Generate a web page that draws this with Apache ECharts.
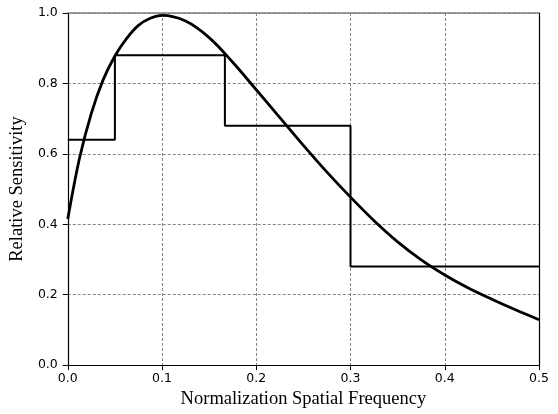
<!DOCTYPE html>
<html>
<head>
<meta charset="utf-8">
<script src="https://cdn.jsdelivr.net/npm/echarts@6/dist/echarts.min.js"></script>
<style>
  html, body { margin: 0; padding: 0; background: #fff; }
  #chart { width: 558px; height: 414px; }
</style>
</head>
<body>
<div id="chart"></div>
<script>
// Sensitivity curve samples (normalised spatial frequency -> relative sensitivity)
const curveX = [0.0000, 0.0125, 0.0250, 0.0375, 0.0500, 0.0625, 0.0750, 0.0875, 0.1000,
                0.125, 0.150, 0.175, 0.200, 0.225, 0.250, 0.275, 0.300, 0.325, 0.350,
                0.375, 0.400, 0.425, 0.450, 0.475, 0.500];
const curveY = [0.415, 0.588, 0.715, 0.810, 0.878, 0.928, 0.965, 0.985, 0.993,
                0.977, 0.930, 0.860, 0.782, 0.703, 0.624, 0.548, 0.477, 0.410, 0.350,
                0.299, 0.256, 0.219, 0.187, 0.157, 0.129];

// Piecewise-constant band weights: band edges and the level held in each band
const bandEdges = [0, 0.05, 0.1667, 0.3, 0.5];
const bandLevels = [0.64, 0.88, 0.68, 0.28];

// Axis ticks
const xTicks = [0.0, 0.1, 0.2, 0.3, 0.4, 0.5];
const yTicks = [0.0, 0.2, 0.4, 0.6, 0.8, 1.0];

const curveData = curveX.map((x, i) => [x, curveY[i]]);
const stepData = bandEdges.map((x, i) => [x, bandLevels[Math.min(i, bandLevels.length - 1)]]);

const tickFont = { fontFamily: 'DejaVu Sans', fontSize: 12.5, color: '#000' };
const titleFont = { fontFamily: 'Liberation Serif', fontSize: 18.5, color: '#000' };
const gridDash = { color: '#666', width: 0.8, type: [3, 2] };

const chart = echarts.init(document.getElementById('chart'), null, { renderer: 'canvas' });
chart.setOption({
  animation: false,
  backgroundColor: '#fff',
  grid: { left: 67, right: 19, top: 13, bottom: 47, containLabel: false },
  xAxis: [
    {
      type: 'value',
      min: xTicks[0], max: xTicks[xTicks.length - 1], interval: 0.1,
      name: 'Normalization Spatial Frequency',
      nameLocation: 'middle', nameGap: 24,
      nameTextStyle: titleFont,
      axisLine: { show: true, onZero: false, lineStyle: { color: '#000', width: 1.2 } },
      axisTick: { show: true, length: 5, lineStyle: { color: '#000', width: 1 } },
      axisLabel: { ...tickFont, margin: 7, formatter: v => v.toFixed(1) },
      splitLine: { show: true, lineStyle: gridDash }
    },
    {
      type: 'value', position: 'top',
      min: xTicks[0], max: xTicks[xTicks.length - 1],
      axisLine: { show: true, onZero: false, lineStyle: { color: '#808080', width: 1.6 } },
      axisTick: { show: false }, axisLabel: { show: false }, splitLine: { show: false }
    }
  ],
  yAxis: [
    {
      type: 'value',
      min: yTicks[0], max: yTicks[yTicks.length - 1], interval: 0.2,
      name: 'Relative Sensitivity',
      nameLocation: 'middle', nameGap: 33,
      nameTextStyle: titleFont,
      axisLine: { show: true, onZero: false, lineStyle: { color: '#000', width: 1.2 } },
      axisTick: { show: true, length: 5, lineStyle: { color: '#000', width: 1 } },
      axisLabel: { ...tickFont, margin: 10, formatter: v => v.toFixed(1) },
      splitLine: { show: true, lineStyle: gridDash }
    },
    {
      type: 'value', position: 'right',
      min: yTicks[0], max: yTicks[yTicks.length - 1],
      axisLine: { show: true, onZero: false, lineStyle: { color: '#000', width: 1.2 } },
      axisTick: { show: false }, axisLabel: { show: false }, splitLine: { show: false }
    }
  ],
  series: [
    {
      name: 'bands',
      type: 'line',
      step: 'end',
      data: stepData,
      showSymbol: false,
      lineStyle: { color: '#000', width: 2 },
      z: 3
    },
    {
      name: 'sensitivity',
      type: 'line',
      data: curveData,
      smooth: 0.35,
      showSymbol: false,
      lineStyle: { color: '#000', width: 2.8 },
      z: 4
    }
  ]
});
</script>
</body>
</html>
